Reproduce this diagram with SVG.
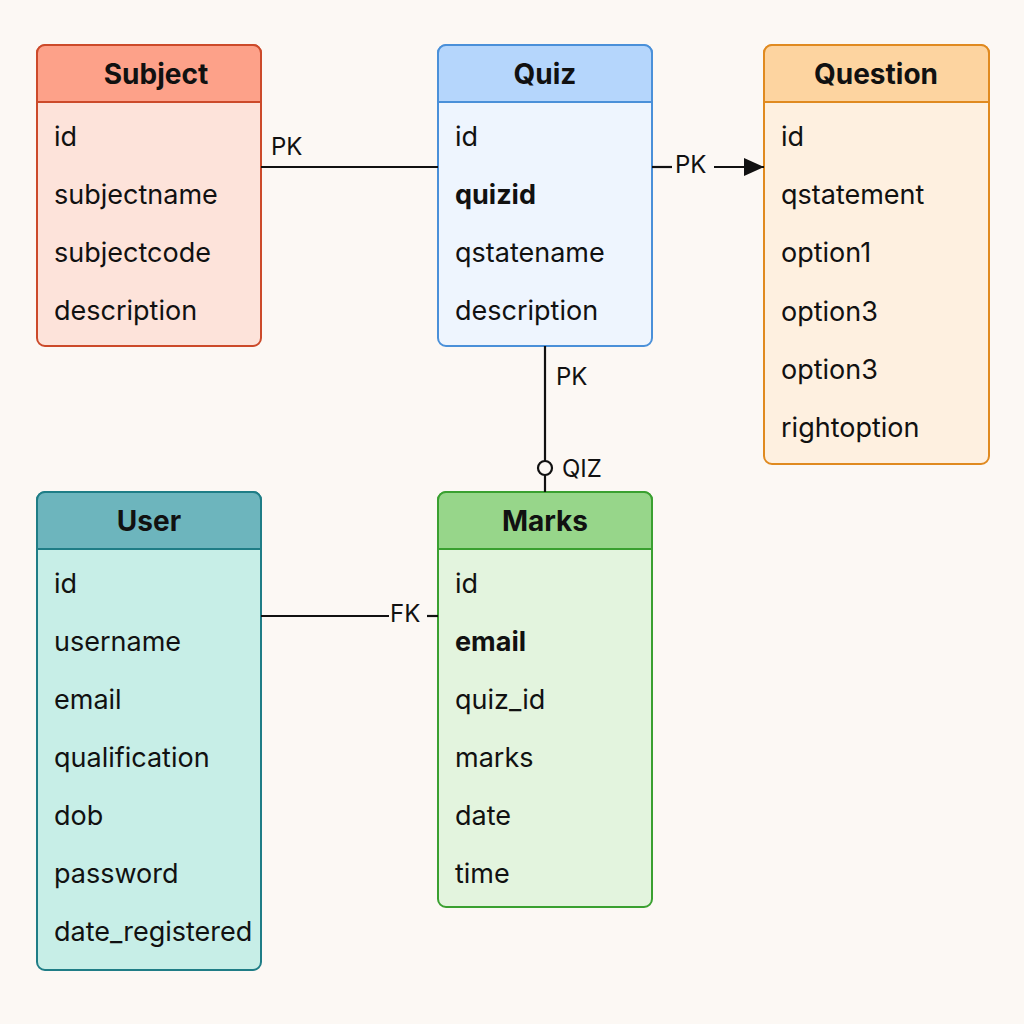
<svg xmlns="http://www.w3.org/2000/svg" width="1024" height="1024" viewBox="0 0 1024 1024">
<style>
text{font-family:"Inter","Liberation Sans",Arial,sans-serif;fill:#111}
.t{font-size:28px;font-weight:700;text-anchor:middle}
.r{font-size:27px}
.b{font-weight:700}
.l{font-size:24px}
.c{stroke:#111;stroke-width:2.2;fill:none}
</style>
<defs>
<marker id="ar" markerWidth="20" markerHeight="18" refX="20" refY="9" orient="auto" markerUnits="userSpaceOnUse" viewBox="0 0 20 18">
<path d="M0,0 L20,9 L0,18 z" fill="#111"/>
</marker>
</defs>
<rect width="1024" height="1024" fill="#fcf8f4"/>

<g id="subject">
<rect x="37" y="45" width="224" height="301" rx="8" fill="#fde3da" stroke="#cc4a2a" stroke-width="2"/>
<path d="M37,102 V53 a8,8 0 0 1 8,-8 H253 a8,8 0 0 1 8,8 V102 z" fill="#fda189" stroke="#cc4a2a" stroke-width="2"/>
<text class="t" x="156" y="84">Subject</text>
<text class="r" x="54" y="146">id</text>
<text class="r" x="54" y="204">subjectname</text>
<text class="r" x="54" y="262">subjectcode</text>
<text class="r" x="54" y="320">description</text>
</g>

<g id="quiz">
<rect x="438" y="45" width="214" height="301" rx="8" fill="#eef5fe" stroke="#4a90d9" stroke-width="2"/>
<path d="M438,102 V53 a8,8 0 0 1 8,-8 H644 a8,8 0 0 1 8,8 V102 z" fill="#b5d6fc" stroke="#4a90d9" stroke-width="2"/>
<text class="t" x="545" y="84">Quiz</text>
<text class="r" x="455" y="146">id</text>
<text class="r b" x="455" y="204">quizid</text>
<text class="r" x="455" y="262">qstatename</text>
<text class="r" x="455" y="320">description</text>
</g>

<g id="question">
<rect x="764" y="45" width="225" height="419" rx="8" fill="#fef0e0" stroke="#e08a20" stroke-width="2"/>
<path d="M764,102 V53 a8,8 0 0 1 8,-8 H981 a8,8 0 0 1 8,8 V102 z" fill="#fdd4a0" stroke="#e08a20" stroke-width="2"/>
<text class="t" x="876" y="84">Question</text>
<text class="r" x="781" y="146">id</text>
<text class="r" x="781" y="204">qstatement</text>
<text class="r" x="781" y="262">option1</text>
<text class="r" x="781" y="321">option3</text>
<text class="r" x="781" y="379">option3</text>
<text class="r" x="781" y="437">rightoption</text>
</g>

<g id="user">
<rect x="37" y="492" width="224" height="478" rx="8" fill="#c7eee7" stroke="#1f7d86" stroke-width="2"/>
<path d="M37,549 V500 a8,8 0 0 1 8,-8 H253 a8,8 0 0 1 8,8 V549 z" fill="#6db5bd" stroke="#1f7d86" stroke-width="2"/>
<text class="t" x="149" y="531">User</text>
<text class="r" x="54" y="593">id</text>
<text class="r" x="54" y="651">username</text>
<text class="r" x="54" y="709">email</text>
<text class="r" x="54" y="767">qualification</text>
<text class="r" x="54" y="825">dob</text>
<text class="r" x="54" y="883">password</text>
<text class="r" x="54" y="941">date_registered</text>
</g>

<g id="marks">
<rect x="438" y="492" width="214" height="415" rx="8" fill="#e3f4de" stroke="#3aa030" stroke-width="2"/>
<path d="M438,549 V500 a8,8 0 0 1 8,-8 H644 a8,8 0 0 1 8,8 V549 z" fill="#97d68a" stroke="#3aa030" stroke-width="2"/>
<text class="t" x="545" y="531">Marks</text>
<text class="r" x="455" y="593">id</text>
<text class="r b" x="455" y="651">email</text>
<text class="r" x="455" y="709">quiz_id</text>
<text class="r" x="455" y="767">marks</text>
<text class="r" x="455" y="825">date</text>
<text class="r" x="455" y="883">time</text>
</g>

<g id="connectors">
<line class="c" x1="261" y1="167" x2="438" y2="167"/>
<text class="l" x="271" y="155">PK</text>
<line class="c" x1="652" y1="167" x2="672" y2="167"/>
<text class="l" x="675" y="173">PK</text>
<line class="c" x1="714" y1="167" x2="764" y2="167" marker-end="url(#ar)"/>
<line class="c" x1="545" y1="346" x2="545" y2="461"/>
<circle cx="545" cy="468" r="7" fill="#fcf8f4" stroke="#111" stroke-width="2.2"/>
<line class="c" x1="545" y1="475" x2="545" y2="492"/>
<text class="l" x="556" y="385">PK</text>
<text class="l" x="562" y="477">QIZ</text>
<line class="c" x1="261" y1="616" x2="389" y2="616"/>
<text class="l" x="390" y="622">FK</text>
<line class="c" x1="427" y1="616" x2="438" y2="616"/>
</g>
</svg>
